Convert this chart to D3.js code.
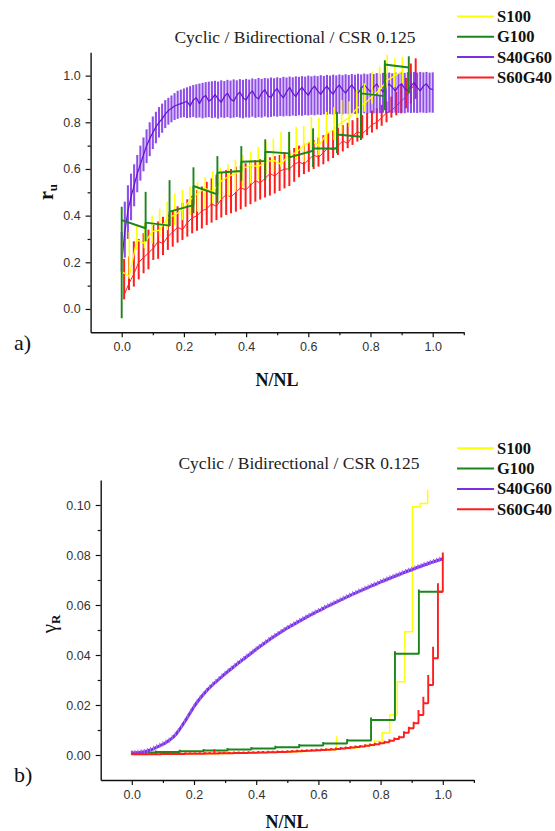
<!DOCTYPE html>
<html>
<head>
<meta charset="utf-8">
<script src="https://cdn.jsdelivr.net/npm/d3@7"></script>
<style>
  body { margin: 0; background: #fff; }
  svg { display: block; }
  .tick text { font-family: "Liberation Sans", Arial, sans-serif; font-size: 12.5px; fill: #333; }
  .domain, .tick line { stroke: #111; }
</style>
</head>
<body>
<svg id="fig" width="555" height="831"></svg>
<script>
// ---------- shared labels ----------
const TITLE = "Cyclic / Bidirectional / CSR 0.125";
const SERIES_NAMES = ["S100", "G100", "S40G60", "S60G40"];
const SERIES_COLORS = ["#ffff00", "#1b861b", "#7b2fe4", "#ff1e1e"];
const X_TICKS = [0, 0.2, 0.4, 0.6, 0.8, 1.0];
const X_TICK_LABELS = ["0.0", "0.2", "0.4", "0.6", "0.8", "1.0"];
const X_MINOR = [0.1, 0.3, 0.5, 0.7, 0.9, 1.1];
const RU_TICKS = [0, 0.2, 0.4, 0.6, 0.8, 1.0];
const RU_TICK_LABELS = ["0.0", "0.2", "0.4", "0.6", "0.8", "1.0"];
const RU_MINOR = [0.1, 0.3, 0.5, 0.7, 0.9];
const GR_TICKS = [0, 0.02, 0.04, 0.06, 0.08, 0.10];
const GR_TICK_LABELS = ["0.00", "0.02", "0.04", "0.06", "0.08", "0.10"];
const GR_MINOR = [0.01, 0.03, 0.05, 0.07, 0.09];

// ---------- panel a: pore pressure ratio per loading cycle ----------
// number of cycles to liquefaction for each specimen
const NL_S100 = 41, NL_G100 = 13, NL_S40G60 = 100, NL_S60G40 = 64;

// S100: range within each cycle and the value carried between cycles
const RU_S100_LO  = [0.14,0.13,0.253,0.26,0.281,0.31,0.338,0.36,0.381,0.403,0.417,0.431,0.453,0.467,0.481,0.502,0.524,0.538,0.556,0.578,0.588,0.609,0.60,0.638,0.63,0.681,0.66,0.71,0.724,0.752,0.781,0.824,0.845,0.881,0.917,0.945,0.952,0.967];
const RU_S100_HI  = [0.30,0.331,0.36,0.37,0.40,0.43,0.46,0.495,0.51,0.525,0.545,0.565,0.59,0.605,0.62,0.64,0.66,0.675,0.695,0.72,0.73,0.759,0.755,0.781,0.785,0.824,0.82,0.845,0.866,0.895,0.89,0.938,0.967,1.016,1.038,1.088,1.074,1.081];
const RU_S100_MID = [0.16,0.14,0.296,0.281,0.331,0.338,0.388,0.403,0.424,0.467,0.495,0.517,0.502,0.545,0.567,0.581,0.602,0.617,0.61,0.63,0.638,0.62,0.66,0.67,0.70,0.72,0.70,0.75,0.77,0.80,0.82,0.86,0.88,0.91,0.94,0.98,1.00,1.02];

// G100: range within each cycle, value entering and leaving each cycle
const RU_G100_LO  = [-0.04,0.29,0.355,0.41,0.455,0.55,0.552,0.595,0.609,0.667,0.724,0.852,0.924];
const RU_G100_HI  = [0.438,0.502,0.552,0.607,0.655,0.698,0.727,0.759,0.774,0.845,0.952,1.066,1.083];
const RU_G100_IN  = [0.38,0.346,0.357,0.445,0.491,0.591,0.634,0.667,0.678,0.688,0.738,0.912,1.035];
const RU_G100_OUT = [0.381,0.37,0.417,0.527,0.584,0.631,0.674,0.65,0.688,0.748,0.924,1.048,1.035];

// S40G60
const RU_S40G60_LO = [0.16,0.22,0.30,0.38,0.44,0.50,0.55,0.59,0.625,0.655,
  0.685,0.71,0.735,0.755,0.775,0.79,0.80,0.81,0.815,0.82,
  0.822,0.818,0.82,0.823,0.819,0.821,0.817,0.82,0.822,0.818,
  0.82,0.816,0.821,0.819,0.822,0.818,0.82,0.823,0.82,0.817,
  0.821,0.82,0.824,0.819,0.822,0.82,0.825,0.821,0.823,0.826,
  0.824,0.827,0.825,0.828,0.826,0.829,0.827,0.83,0.828,0.831,
  0.829,0.832,0.83,0.833,0.831,0.834,0.832,0.835,0.833,0.835,
  0.836,0.834,0.837,0.835,0.838,0.836,0.838,0.837,0.839,0.837,
  0.84,0.838,0.84,0.839,0.841,0.839,0.841,0.84,0.842,0.84,
  0.841,0.839,0.842,0.84,0.841,0.84,0.842,0.841,0.84,0.842,0.841];
const RU_S40G60_HI = [0.33,0.46,0.53,0.58,0.62,0.66,0.70,0.735,0.77,0.80,
  0.825,0.845,0.865,0.88,0.895,0.905,0.915,0.925,0.935,0.94,
  0.945,0.95,0.955,0.96,0.963,0.966,0.969,0.972,0.974,0.976,
  0.978,0.975,0.98,0.977,0.982,0.979,0.984,0.98,0.985,0.982,
  0.986,0.983,0.988,0.985,0.99,0.986,0.99,0.988,0.992,0.989,
  0.993,0.99,0.995,0.992,0.996,0.993,0.997,0.995,0.998,0.996,
  1.0,0.997,1.0,0.998,1.002,0.999,1.003,1.0,1.004,1.001,
  1.005,1.002,1.006,1.003,1.007,1.004,1.008,1.005,1.009,1.006,
  1.01,1.007,1.011,1.008,1.012,1.009,1.013,1.01,1.014,1.011,
  1.015,1.012,1.015,1.013,1.016,1.013,1.016,1.014,1.016,1.013,1.014];
const RU_S40G60_MID = [0.20,0.33,0.42,0.48,0.53,0.58,0.62,0.66,0.70,0.73,
  0.755,0.78,0.80,0.815,0.835,0.85,0.86,0.87,0.875,0.88,
  0.885,0.89,0.87,0.895,0.905,0.88,0.905,0.915,0.89,0.90,
  0.92,0.90,0.885,0.91,0.925,0.90,0.89,0.915,0.93,0.905,
  0.895,0.92,0.935,0.91,0.90,0.925,0.94,0.915,0.905,0.93,
  0.945,0.92,0.905,0.93,0.95,0.925,0.91,0.935,0.95,0.93,
  0.915,0.94,0.955,0.935,0.92,0.94,0.955,0.935,0.92,0.945,
  0.96,0.94,0.925,0.945,0.96,0.94,0.925,0.945,0.96,0.945,
  0.93,0.95,0.965,0.945,0.93,0.95,0.965,0.95,0.935,0.955,
  0.965,0.945,0.935,0.955,0.97,0.95,0.935,0.955,0.965,0.945,0.94];

// S60G40 (cycles recorded at half-cycle offset)
const RU_S60G40_LO = [0.041,0.081,0.096,0.127,0.153,0.17,0.21,0.215,0.231,0.253,
  0.267,0.284,0.296,0.31,0.324,0.335,0.345,0.36,0.37,0.381,
  0.392,0.403,0.41,0.417,0.427,0.438,0.449,0.46,0.469,0.478,
  0.486,0.495,0.506,0.517,0.527,0.545,0.565,0.578,0.588,0.60,
  0.61,0.62,0.633,0.647,0.66,0.675,0.689,0.703,0.717,0.731,
  0.745,0.756,0.77,0.785,0.80,0.82,0.83,0.838,0.86,0.88,0.90];
const RU_S60G40_HI = [0.215,0.225,0.29,0.30,0.325,0.34,0.36,0.375,0.395,0.405,
  0.42,0.44,0.455,0.47,0.485,0.51,0.525,0.545,0.56,0.575,
  0.585,0.595,0.60,0.61,0.615,0.625,0.63,0.638,0.642,0.646,
  0.65,0.655,0.66,0.672,0.68,0.69,0.70,0.708,0.716,0.724,
  0.735,0.745,0.756,0.767,0.777,0.788,0.798,0.809,0.82,0.831,
  0.84,0.85,0.86,0.875,0.89,0.91,0.93,0.96,0.99,1.052,1.074];
const RU_S60G40_MID = [0.06,0.11,0.15,0.20,0.22,0.24,0.26,0.29,0.28,0.31,
  0.33,0.35,0.34,0.37,0.39,0.40,0.42,0.43,0.45,0.44,
  0.47,0.49,0.48,0.50,0.52,0.51,0.53,0.55,0.54,0.56,
  0.58,0.57,0.59,0.60,0.60,0.62,0.63,0.62,0.64,0.66,
  0.65,0.67,0.69,0.68,0.70,0.72,0.71,0.74,0.76,0.75,
  0.77,0.79,0.80,0.82,0.84,0.85,0.87,0.89,0.91,0.94,0.97];

// ---------- panel b: residual shear strain per cycle ----------
// S100: level held after each cycle and the peak reached within it
const GR_S100_BASE = [0.0002,0.0002,0.0003,0.0003,0.0003,0.0004,0.0004,0.0004,0.0005,0.0005,
  0.0005,0.0006,0.0006,0.0007,0.0007,0.0008,0.0008,0.0009,0.0010,0.0011,
  0.0012,0.0013,0.0014,0.0015,0.0017,0.0019,0.0021,0.0023,0.0026,0.0029,
  0.0033,0.0038,0.0055,0.0088,0.0160,0.0293,0.0493,0.0993,0.1006,0.1060];
const GR_S100_PEAK = [0.0006,0.0006,0.0007,0.0007,0.0007,0.0008,0.0008,0.0008,0.0009,0.0009,
  0.0009,0.0010,0.0010,0.0011,0.0011,0.0012,0.0012,0.0013,0.0014,0.0015,
  0.0016,0.0017,0.0018,0.0019,0.0021,0.0023,0.0025,0.0075,0.0030,0.0033,
  0.0037,0.0042,0.0059,0.0092,0.0164,0.0297,0.0497,0.0993,0.1006,0.1060];

// G100 (last entry closes the test at N/NL = 1)
const GR_G100_BASE = [0.0010,0.0012,0.0015,0.0018,0.0022,0.0026,0.0031,0.0038,0.0046,0.0058,0.0140,0.0405,0.0653,0.0653];
const GR_G100_PEAK = [0.0016,0.0018,0.0021,0.0024,0.0028,0.0032,0.0037,0.0044,0.0052,0.0064,0.0150,0.0415,0.0662,0.0653];

// S40G60
const GR_S40G60 = [0.0007,0.0008,0.0009,0.0011,0.0013,0.0016,0.0020,0.0025,0.0031,0.0037,
  0.0043,0.0050,0.0058,0.0068,0.0080,0.0096,0.0114,0.0133,0.0153,0.0173,
  0.0193,0.0211,0.0227,0.0242,0.0256,0.0269,0.0281,0.0292,0.0303,0.0314,
  0.0325,0.0335,0.0345,0.0355,0.0365,0.0375,0.0384,0.0394,0.0403,0.0413,
  0.0423,0.0432,0.0441,0.0450,0.0459,0.0468,0.0476,0.0484,0.0492,0.0500,
  0.0508,0.0515,0.0522,0.0529,0.0536,0.0543,0.0550,0.0557,0.0563,0.0570,
  0.0576,0.0582,0.0589,0.0595,0.0601,0.0607,0.0613,0.0619,0.0625,0.0631,
  0.0637,0.0643,0.0648,0.0654,0.0659,0.0665,0.0670,0.0676,0.0681,0.0686,
  0.0692,0.0697,0.0702,0.0707,0.0712,0.0717,0.0722,0.0727,0.0732,0.0737,
  0.0741,0.0746,0.0751,0.0755,0.0760,0.0764,0.0769,0.0773,0.0777,0.0781,0.0785];

// S60G40
const GR_S60G40_BASE = [0.0003,0.0003,0.0003,0.0003,0.0003,0.0003,0.0004,0.0004,0.0004,0.0004,
  0.0004,0.0005,0.0005,0.0005,0.0005,0.0006,0.0006,0.0006,0.0007,0.0007,
  0.0007,0.0008,0.0008,0.0008,0.0009,0.0009,0.0010,0.0010,0.0011,0.0011,
  0.0012,0.0012,0.0013,0.0014,0.0015,0.0016,0.0017,0.0018,0.0019,0.0020,
  0.0021,0.0022,0.0024,0.0026,0.0028,0.0030,0.0032,0.0034,0.0037,0.0040,
  0.0043,0.0047,0.0051,0.0057,0.0064,0.0071,0.0089,0.0107,0.0127,0.0160,
  0.0207,0.0280,0.0387,0.0653,0.0653];
const GR_S60G40_PEAK = [0.0009,0.0009,0.0009,0.0009,0.0009,0.0009,0.0010,0.0010,0.0010,0.0010,
  0.0010,0.0011,0.0011,0.0011,0.0011,0.0012,0.0012,0.0023,0.0013,0.0013,
  0.0013,0.0014,0.0014,0.0014,0.0015,0.0015,0.0016,0.0016,0.0017,0.0017,
  0.0018,0.0018,0.0019,0.0020,0.0021,0.0022,0.0023,0.0024,0.0025,0.0026,
  0.0027,0.0028,0.0030,0.0032,0.0034,0.0036,0.0038,0.0040,0.0043,0.0046,
  0.0049,0.0053,0.0057,0.0063,0.0070,0.0077,0.0095,0.0113,0.0133,0.0180,
  0.0233,0.0320,0.0433,0.0687,0.0810];

// ---------- drawing ----------
const svg = d3.select("#fig");
svg.append("rect").attr("width", 555).attr("height", 831).attr("fill", "#fff");

const xA = d3.scaleLinear().domain([-0.1, 1.1]).range([90.6, 463.8]);
const yA = d3.scaleLinear().domain([-0.1, 1.1]).range([332.3, 52.3]);
const xB = d3.scaleLinear().domain([-0.1, 1.1]).range([100.7, 473.9]);
const yB = d3.scaleLinear().domain([-0.01, 0.11]).range([780, 480]);

const cycX = (n, NL, offset) => d3.range(n).map(i => (i + offset) / NL);

function axes(g, x, y, xt, xl, xm, yt, yl, ym) {
  const y0 = y.range()[0], x0 = x.range()[0];
  g.append("g").attr("transform", `translate(0,${y0})`)
    .call(d3.axisBottom(x).tickValues(xm).tickFormat("").tickSize(3).tickSizeOuter(0))
    .call(s => s.select(".domain").remove());
  g.append("g").attr("transform", `translate(${x0},0)`)
    .call(d3.axisLeft(y).tickValues(ym).tickFormat("").tickSize(3).tickSizeOuter(0))
    .call(s => s.select(".domain").remove());
  g.append("g").attr("transform", `translate(0,${y0})`)
    .call(d3.axisBottom(x).tickValues(xt).tickFormat((d, i) => xl[i]).tickSize(5).tickSizeOuter(0).tickPadding(5));
  g.append("g").attr("transform", `translate(${x0},0)`)
    .call(d3.axisLeft(y).tickValues(yt).tickFormat((d, i) => yl[i]).tickSize(5).tickSizeOuter(0).tickPadding(5));
  g.selectAll(".domain").attr("stroke-width", 1.4);
  g.selectAll(".tick line").attr("stroke-width", 1.2);
}

// vertical span of each cycle plus the trace linking consecutive cycles
function cycles(g, x, y, xs, lo, hi, vin, vout, color, barW, lineW, opts = {}) {
  g.append("g").selectAll("line").data(xs).join("line")
    .attr("x1", d => x(d)).attr("x2", d => x(d))
    .attr("y1", (d, i) => y(lo[i])).attr("y2", (d, i) => y(hi[i]))
    .attr("stroke", color).attr("stroke-width", barW)
    .attr("stroke-opacity", opts.barOpacity || 1);
  const pts = [];
  xs.forEach((d, i) => { pts.push([x(d), y(vin[i])]); pts.push([x(d), y(vout[i])]); });
  g.append("path").attr("d", d3.line()(pts)).attr("fill", "none")
    .attr("stroke", opts.lineColor || color).attr("stroke-width", lineW)
    .attr("stroke-linejoin", "bevel");
}

// staircase: jump at each cycle to its peak, then hold the base level
function steps(g, x, y, xs, base, peak, color, w) {
  const pts = [];
  xs.forEach((d, i) => {
    const prev = i ? base[i - 1] : base[0];
    pts.push([x(d), y(prev)], [x(d), y(Math.max(peak[i], base[i]))], [x(d), y(base[i])]);
  });
  g.append("path").attr("d", d3.line()(pts)).attr("fill", "none")
    .attr("stroke", color).attr("stroke-width", w).attr("stroke-linejoin", "bevel");
}

function legend(g, y0) {
  SERIES_NAMES.forEach((n, i) => {
    const yy = y0 + i * 20.3;
    g.append("line").attr("x1", 457).attr("x2", 494).attr("y1", yy).attr("y2", yy)
      .attr("stroke", SERIES_COLORS[i]).attr("stroke-width", 2);
    g.append("text").attr("x", 497).attr("y", yy + 5.5).text(n)
      .attr("font-family", "'Liberation Serif', 'Times New Roman', serif")
      .attr("font-weight", "bold").attr("font-size", 16.5).attr("fill", "#111");
  });
}

function title(g, cx, y) {
  g.append("text").attr("x", cx).attr("y", y).attr("text-anchor", "middle").text(TITLE)
    .attr("font-family", "'Liberation Serif', 'Times New Roman', serif")
    .attr("font-size", 17.5).attr("fill", "#222");
}

function xTitle(g, cx, y) {
  g.append("text").attr("x", cx).attr("y", y).attr("text-anchor", "middle").text("N/NL")
    .attr("font-family", "'Liberation Serif', 'Times New Roman', serif")
    .attr("font-weight", "bold").attr("font-size", 18).attr("fill", "#111");
}

function panelTag(g, x, y, t) {
  g.append("text").attr("x", x).attr("y", y).text(t)
    .attr("font-family", "'Liberation Serif', 'Times New Roman', serif")
    .attr("font-size", 22).attr("fill", "#111");
}

// ----- panel a -----
const ga = svg.append("g");
const gaData = ga.append("g");
cycles(gaData, xA, yA, cycX(RU_S60G40_LO.length, NL_S60G40, 0.5), RU_S60G40_LO, RU_S60G40_HI,
  RU_S60G40_MID, RU_S60G40_MID, SERIES_COLORS[3], 2.0, 1.0);
cycles(gaData, xA, yA, cycX(RU_S40G60_LO.length, NL_S40G60, 0), RU_S40G60_LO, RU_S40G60_HI,
  RU_S40G60_MID, RU_S40G60_MID, SERIES_COLORS[2], 2.1, 1.2, { barOpacity: 0.85, lineColor: "#6410d0" });
cycles(gaData, xA, yA, cycX(RU_S100_LO.length, NL_S100, 0), RU_S100_LO, RU_S100_HI,
  RU_S100_MID, RU_S100_MID, SERIES_COLORS[0], 1.6, 1.3);
cycles(gaData, xA, yA, cycX(RU_G100_LO.length, NL_G100, 0), RU_G100_LO, RU_G100_HI,
  RU_G100_IN, RU_G100_OUT, SERIES_COLORS[1], 1.9, 1.9);
axes(ga, xA, yA, X_TICKS, X_TICK_LABELS, X_MINOR, RU_TICKS, RU_TICK_LABELS, RU_MINOR);
title(ga, 295, 43);
legend(ga, 16.5);
xTitle(ga, 277, 386);
panelTag(ga, 14, 350, "a)");
const ruLab = ga.append("text").attr("transform", "translate(53,192) rotate(-90)")
  .attr("text-anchor", "middle")
  .attr("font-family", "'Liberation Serif', 'Times New Roman', serif").attr("font-weight", "bold").attr("fill", "#111");
ruLab.append("tspan").attr("font-size", 20).text("r");
ruLab.append("tspan").attr("font-size", 13).attr("dy", 4).text("u");

// ----- panel b -----
const gb = svg.append("g");
const gbData = gb.append("g");
steps(gbData, xB, yB, cycX(GR_S100_BASE.length, NL_S100, 0), GR_S100_BASE, GR_S100_PEAK, SERIES_COLORS[0], 1.5);
steps(gbData, xB, yB, cycX(GR_G100_BASE.length, NL_G100, 0), GR_G100_BASE, GR_G100_PEAK, SERIES_COLORS[1], 1.9);
const pX = cycX(GR_S40G60.length, NL_S40G60, 0);
gbData.append("path").attr("d", d3.line().curve(d3.curveMonotoneX)(pX.map((d, i) => [xB(d), yB(GR_S40G60[i])])))
  .attr("fill", "none").attr("stroke", SERIES_COLORS[2]).attr("stroke-width", 3);
gbData.append("g").selectAll("line").data(pX).join("line")
  .attr("x1", d => xB(d)).attr("x2", d => xB(d))
  .attr("y1", (d, i) => yB(GR_S40G60[i]) - 3).attr("y2", (d, i) => yB(GR_S40G60[i]) + 2)
  .attr("stroke", "#a070f2").attr("stroke-width", 1.1);
steps(gbData, xB, yB, cycX(GR_S60G40_BASE.length, NL_S60G40, 0), GR_S60G40_BASE, GR_S60G40_PEAK, SERIES_COLORS[3], 1.9);
axes(gb, xB, yB, X_TICKS, X_TICK_LABELS, X_MINOR, GR_TICKS, GR_TICK_LABELS, GR_MINOR);
title(gb, 299, 469);
legend(gb, 448.3);
xTitle(gb, 287, 828);
panelTag(gb, 14, 782, "b)");
const grLab = gb.append("text").attr("transform", "translate(56,624) rotate(-90)")
  .attr("text-anchor", "middle")
  .attr("font-family", "'Liberation Serif', 'Times New Roman', serif").attr("fill", "#111");
grLab.append("tspan").attr("font-size", 21).text("γ");
grLab.append("tspan").attr("font-size", 13).attr("font-weight", "bold").attr("dy", 4).text("R");
</script>
</body>
</html>
